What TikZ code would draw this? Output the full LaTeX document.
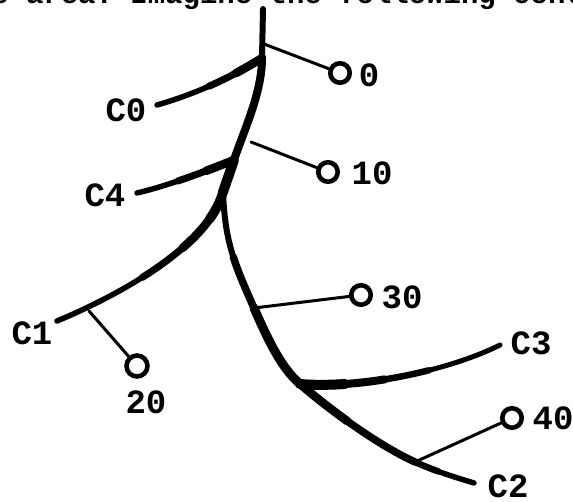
\documentclass[tikz,border=0pt]{standalone}
\usepackage{fontspec}
\setmonofont{Liberation Mono}
\begin{document}
\begin{tikzpicture}[x=1pt,y=-1pt,
  br/.style={line cap=round, line join=round, draw=black},
  stick/.style={line width=3pt, line cap=round},
  leaf/.style={circle, draw, line width=4.6pt, minimum size=19.5pt, inner sep=0pt},
  lab/.style={font=\fontsize{34}{34}\selectfont\ttfamily\bfseries, inner sep=0pt},
]
\useasboundingbox (0,0) rectangle (573,502);
\clip (0,0) rectangle (573,502);
\fill[white] (0,0) rectangle (573,502);
% cut-off line of text at the top
\node[anchor=base west, inner sep=0pt, font=\fontsize{29}{29}\selectfont\ttfamily\bfseries] (hdr) at (-9,4) {s area. Imagine the following conte};
% junctions and branch ends
\coordinate (top) at (263,9);
\coordinate (s0) at (264,44);
\coordinate (j0) at (262,58);
\coordinate (s10) at (251,142);
\coordinate (j4) at (234,160);
\coordinate (j1) at (223,192);
\coordinate (c0end) at (157,105);
\coordinate (c4end) at (137,193);
\coordinate (c1end) at (57,321);
\coordinate (s20) at (89,311);
\coordinate (s30) at (254,308);
\coordinate (j3) at (300,384);
\coordinate (s40) at (415,462);
\coordinate (c2end) at (474,483);
\coordinate (c3end) at (500,345);
% trunk
\draw[br, line width=6pt] (top) -- (j0);
\draw[br, line width=8pt] (j0) .. controls +(0,35) and +(10,-30) .. (j4);
\draw[br, line width=10pt] (j4) -- (j1);
% C0 and C4 branches
\foreach \w/\l in {5.5pt/3000pt,7pt/60pt,8.5pt/30pt}
  \draw[br, line width=\w, dash pattern=on \l off 3000pt] (j0) .. controls +(-35,22) and +(35,-10) .. (c0end);
\foreach \w/\l in {5.5pt/3000pt,7pt/60pt,8.5pt/30pt}
  \draw[br, line width=\w, dash pattern=on \l off 3000pt] (j4) .. controls +(-30,12) and +(30,-7) .. (c4end);
% C1 branch
\foreach \w/\l in {5.5pt/3000pt,7pt/120pt,8.5pt/70pt,9.5pt/30pt}
  \draw[br, line width=\w, dash pattern=on \l off 3000pt] (j1) .. controls +(-15,55) and +(60,-25) .. (c1end);
% C2 branch
\foreach \w/\l in {6pt/3000pt,7.5pt/55pt}
  \draw[br, line width=\w, dash pattern=on \l off 3000pt] (s30) .. controls +(-20,-45) and +(2,50) .. (j1);
\draw[br, line width=9pt] (s30) .. controls +(12,27) and +(-20,-17) .. (j3);
\foreach \w/\l in {7.5pt/3000pt,8.5pt/60pt}
  \draw[br, line width=\w, dash pattern=on \l off 3000pt] (j3) .. controls +(35,30) and +(-35,-16) .. (s40);
\foreach \w/\l in {5.5pt/3000pt,6.5pt/25pt}
  \draw[br, line width=\w, dash pattern=on \l off 3000pt] (s40) .. controls +(20,9) and +(-20,-6) .. (c2end);
% C3 branch
\foreach \w/\l in {5pt/3000pt,6.5pt/130pt,8pt/85pt,10pt/45pt}
  \draw[br, line width=\w, dash pattern=on \l off 3000pt] (j3) .. controls +(60,5) and +(-52,26) .. (c3end);
% leaves
\node[leaf] (n0) at (340,73) {};
\node[leaf] (n10) at (328,172) {};
\node[leaf, minimum size=21pt] (n20) at (137,366) {};
\node[leaf] (n30) at (361,295) {};
\node[leaf] (n40) at (512,418) {};
\draw[stick] (s0) -- (n0);
\draw[stick] (s10) -- (n10);
\draw[stick] (s20) -- (n20);
\draw[stick] (s30) -- (n30);
\draw[stick] (s40) -- (n40);
% labels
\node[lab] (l0) at (369,75) {0};
\node[lab] (l10) at (372,173) {10};
\node[lab] (l20) at (146,402) {20};
\node[lab] (l30) at (402,297) {30};
\node[lab] (l40) at (553,418) {40};
\node[lab] (lc0) at (126,110) {C0};
\node[lab] (lc4) at (105,195) {C4};
\node[lab] (lc1) at (32,333) {C1};
\node[lab] (lc3) at (531,343) {C3};
\node[lab] (lc2) at (508,486) {C2};
\end{tikzpicture}
\end{document}
